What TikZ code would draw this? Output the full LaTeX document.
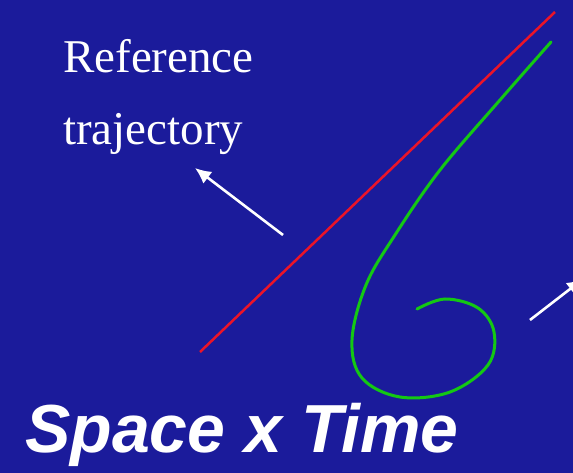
\documentclass[tikz,border=0pt]{standalone}
\usepackage{fontspec}
\setmainfont{Liberation Serif}
\setsansfont{Liberation Sans}
\usetikzlibrary{arrows.meta}
\definecolor{slideblue}{RGB}{27,27,155}
\definecolor{trajred}{RGB}{235,20,40}
\definecolor{trajgreen}{RGB}{20,200,20}
\tikzset{pointer/.style={white, line width=2.6pt, -{Latex[length=16pt,width=15pt]}}}
\begin{document}
\begin{tikzpicture}[x=1pt,y=-1pt]
        \fill[slideblue] (0,0) rectangle (573,473);
        \useasboundingbox (0,0) rectangle (573,473);
        \clip (0,0) rectangle (573,473);

        % reference and actual trajectories
        \draw[trajred, line width=2.5pt] (200,352) -- (555,12);
        \draw[trajgreen, line width=3pt, line cap=round] plot[smooth, tension=0.6] coordinates
            {(551,42) (500,100) (440,170) (395,235) (366,285) (352,340) (362,378) (400,397)
             (450,392) (488,365) (494,332) (478,308) (445,299) (417,309)};

        \node[anchor=base west, text=white, font=\fontsize{47}{47}\selectfont, inner sep=0pt] (ref) at (63,73) {Reference};
        \node[anchor=base west, text=white, font=\fontsize{47}{47}\selectfont, inner sep=0pt] (traj) at (63,145) {trajectory};

        \coordinate (refarrow) at (283,235);
        \coordinate (reftip) at (195,168);
        \draw[pointer] (refarrow) -- (reftip);
        \coordinate (actarrow) at (530,320);
        \coordinate (acttip) at (583,279);
        \draw[pointer] (actarrow) -- (acttip);

        \node[anchor=base west, text=white, font=\sffamily\bfseries\itshape\fontsize{68}{68}\selectfont, inner sep=0pt] (title) at (25,452) {Space x Time};
    \end{tikzpicture}
\end{document}
